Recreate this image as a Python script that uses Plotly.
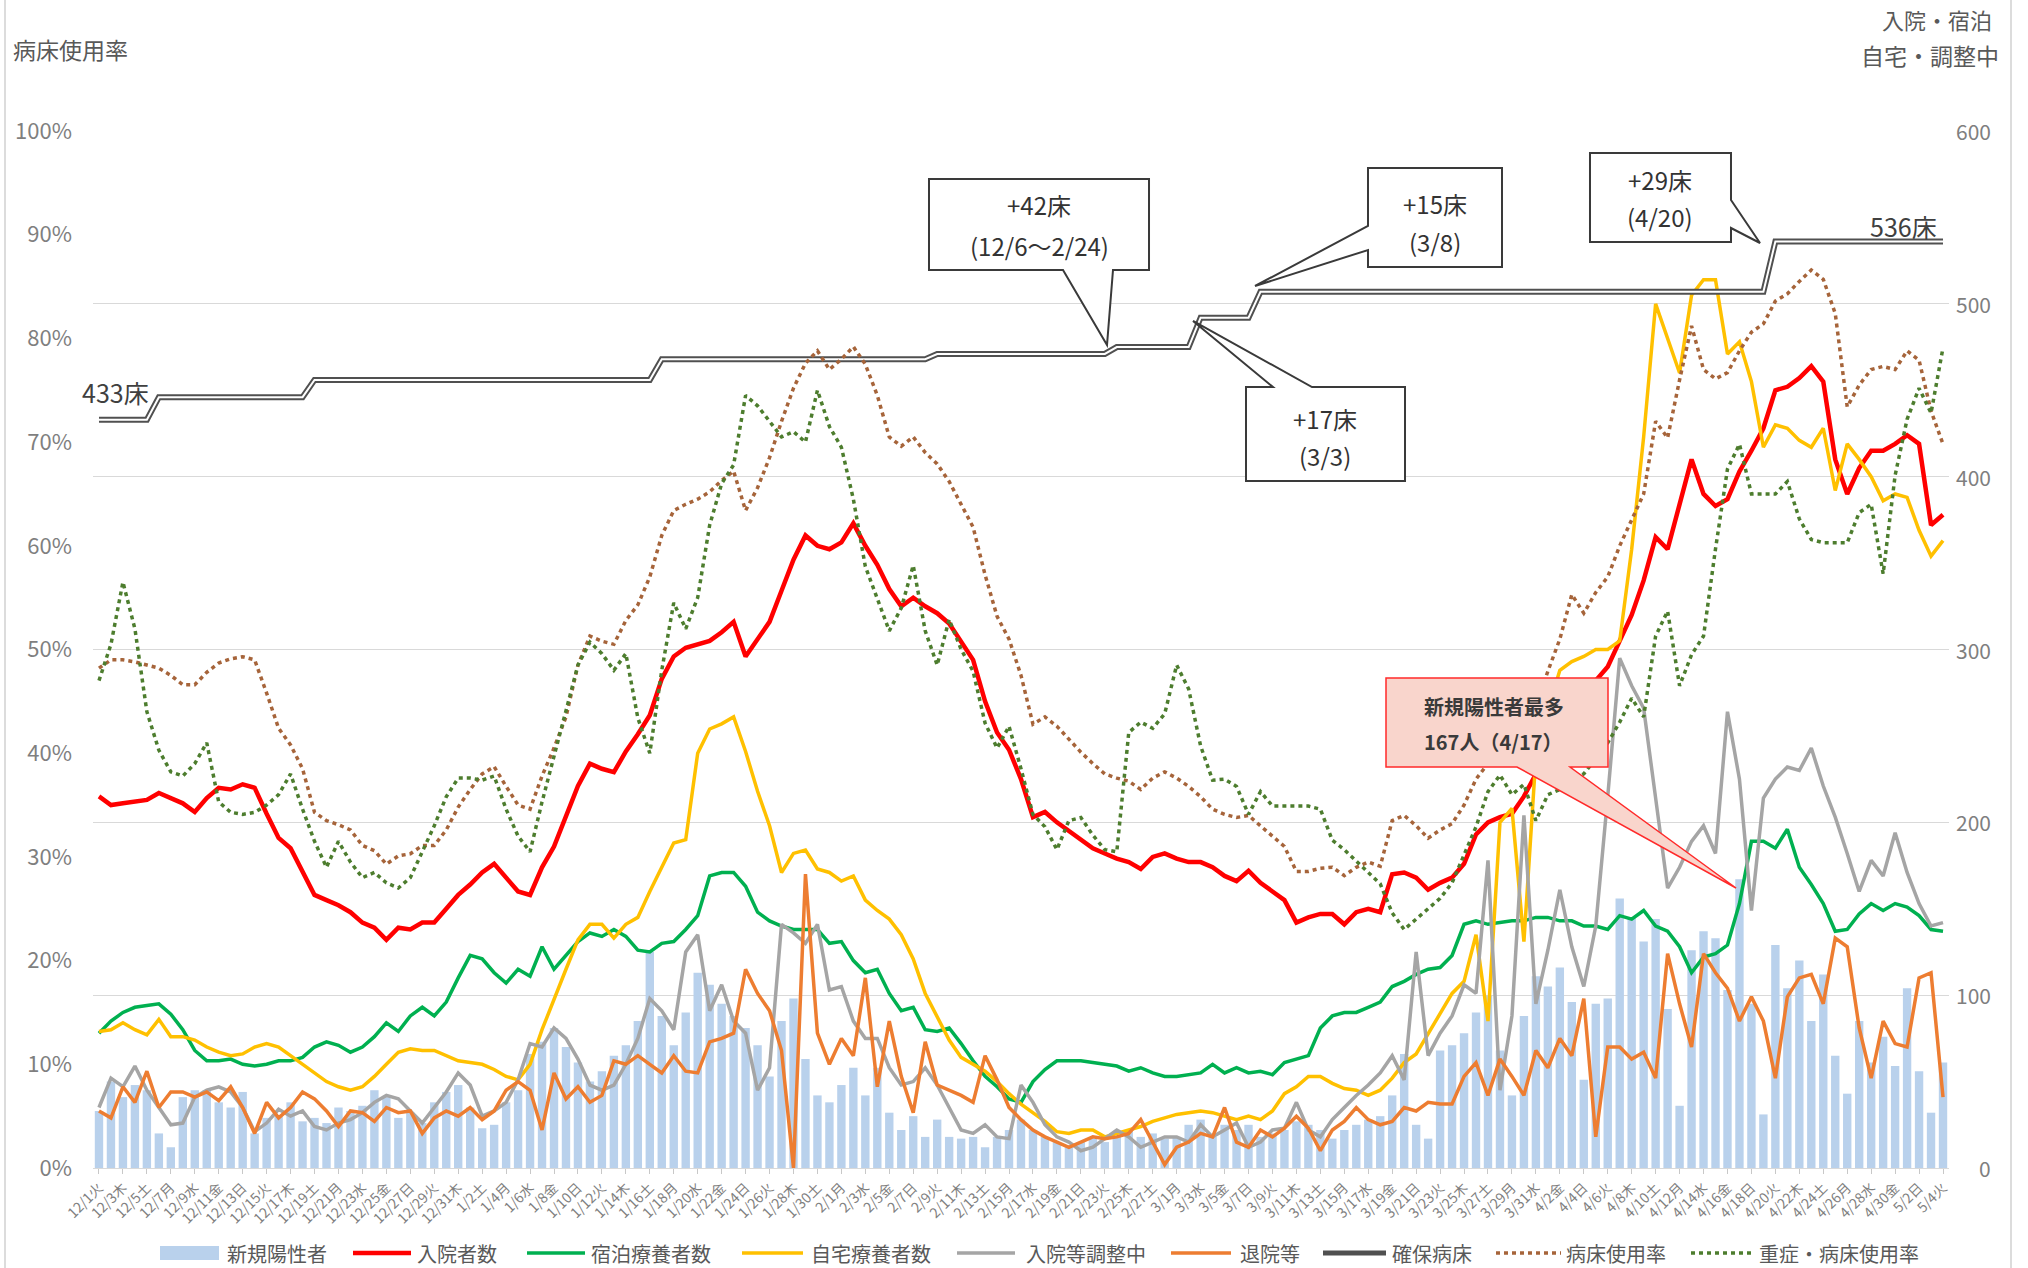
import datetime as dt
import plotly.graph_objects as go

FONT = "Noto Sans CJK JP"
W, H = 2028, 1268
# plot area edges in page pixels
PL, PR, PT, PB = 93, 1949, 131, 1168

# ---- categories -------------------------------------------------------
START = dt.date(2020, 12, 1)
N_DAYS = 155
WEEKDAYS = "月火水木金土日"
dates = [START + dt.timedelta(days=k) for k in range(N_DAYS)]
day_labels = [f"{d.month}/{d.day}{WEEKDAYS[d.weekday()]}" for d in dates]
idx = list(range(N_DAYS))

# ---- series -----------------------------------------------------------
new_cases = [
    33, 50, 41, 48, 45, 20, 12, 41, 45, 45,
    38, 35, 44, 20, 29, 30, 38, 27, 29, 26,
    35, 33, 36, 45, 41, 29, 32, 26, 38, 44,
    48, 35, 23, 25, 38, 45, 66, 73, 81, 70,
    61, 50, 56, 65, 71, 85, 125, 88, 71, 90,
    113, 106, 95, 88, 81, 71, 53, 85, 98, 63,
    42, 38, 48, 58, 42, 58, 32, 22, 30, 18,
    28, 18, 17, 18, 12, 18, 22, 28, 22, 18,
    15, 12, 15, 17, 15, 18, 22, 18, 20, 17,
    18, 25, 28, 18, 25, 22, 25, 18, 20, 22,
    27, 25, 22, 17, 22, 25, 28, 30, 42, 66,
    25, 17, 68, 71, 78, 90, 100, 68, 42, 88,
    111, 105, 116, 96, 51, 95, 98, 156, 145, 131,
    144, 92, 36, 126, 137, 133, 103, 167, 95, 31,
    129, 104, 120, 85, 112, 65, 43, 85, 61, 76,
    59, 104, 56, 32, 61,
]

inpatients = [
    215, 210, 211, 212, 213, 217, 214, 211, 206, 214,
    220, 219, 222, 220, 205, 191, 185, 171, 158, 155,
    152, 148, 142, 139, 132, 139, 138, 142, 142, 150,
    158, 164, 171, 176, 168, 160, 158, 174, 186, 203,
    221, 234, 231, 229, 241, 251, 262, 283, 296, 301,
    303, 305, 310, 316, 296, 306, 316, 334, 352, 366,
    360, 358, 362, 373, 360, 349, 335, 325, 330, 325,
    321, 315, 305, 294, 270, 252, 242, 225, 203, 206,
    200, 195, 190, 185, 182, 179, 177, 173, 180, 182,
    179, 177, 177, 174, 169, 166, 172, 165, 160, 155,
    142, 145, 147, 147, 141, 148, 150, 148, 170, 171,
    168, 161, 165, 168, 176, 193, 200, 203, 205, 215,
    228, 243, 258, 280, 272, 282, 290, 305, 320, 340,
    365, 358, 385, 410, 390, 383, 387, 403, 415, 428,
    450, 452, 457, 464, 455, 410, 390, 405, 415, 415,
    419, 424, 419, 372, 378,
]

hotel = [
    78, 85, 90, 93, 94, 95, 89, 80, 68, 62,
    62, 63, 60, 59, 60, 62, 62, 64, 70, 73,
    71, 67, 70, 76, 84, 79, 88, 93, 88, 96,
    110, 123, 121, 113, 107, 115, 111, 128, 115, 123,
    131, 136, 134, 138, 134, 126, 125, 130, 131, 138,
    146, 169, 171, 171, 163, 148, 143, 140, 138, 138,
    138, 130, 131, 120, 113, 115, 101, 91, 93, 80,
    79, 81, 72, 62, 53, 47, 40, 38, 50, 57,
    62, 62, 62, 61, 60, 59, 56, 58, 55, 53,
    53, 54, 55, 60, 55, 58, 55, 56, 54, 61,
    63, 65, 81, 88, 90, 90, 93, 96, 105, 108,
    112, 115, 116, 123, 141, 143, 141, 142, 143, 143,
    145, 145, 143, 143, 140, 140, 138, 146, 144, 149,
    140, 137, 128, 113, 122, 124, 129, 153, 189, 189,
    185, 196, 174, 164, 153, 137, 138, 147, 153, 149,
    153, 151, 146, 138, 137,
]

home = [
    79, 80, 84, 80, 77, 86, 76, 76, 74, 70,
    67, 65, 66, 70, 72, 70, 65, 60, 55, 50,
    47, 45, 47, 53, 60, 67, 69, 68, 68, 65,
    62, 61, 60, 57, 53, 51, 60, 80, 98, 115,
    132, 141, 141, 133, 141, 145, 160, 174, 188, 190,
    240, 254, 257, 261, 241, 218, 198, 171, 182, 184,
    173, 171, 166, 169, 155, 149, 144, 135, 121, 101,
    88, 74, 64, 60, 56, 50, 43, 37, 32, 27,
    21, 20, 22, 22, 18, 20, 22, 24, 27, 29,
    31, 32, 33, 32, 30, 28, 30, 28, 33, 43,
    47, 53, 53, 49, 46, 45, 42, 45, 52, 61,
    66, 78, 90, 101, 108, 135, 85, 200, 208, 131,
    238, 265, 288, 293, 296, 300, 300, 305, 358, 423,
    500, 480, 460, 505, 514, 514, 471, 478, 455, 417,
    430, 428, 421, 417, 428, 392, 419, 410, 400, 386,
    390, 388, 369, 354, 363,
]

adjusting = [
    35, 52, 47, 59, 45, 35, 25, 26, 41, 45,
    47, 44, 35, 21, 26, 34, 30, 33, 24, 22,
    26, 28, 32, 38, 42, 40, 33, 26, 35, 44,
    55, 48, 30, 33, 38, 51, 72, 70, 81, 75,
    63, 48, 45, 48, 60, 75, 98, 91, 80, 125,
    135, 91, 106, 85, 78, 45, 58, 141, 136, 130,
    141, 103, 105, 85, 75, 75, 58, 48, 50, 58,
    48, 35, 22, 20, 25, 18, 17, 48, 38, 25,
    18, 15, 10, 12, 17, 22, 18, 12, 15, 18,
    18, 15, 25, 18, 22, 26, 12, 15, 22, 23,
    38, 22, 18, 28, 35, 42, 48, 55, 65, 51,
    125, 65, 78, 88, 106, 101, 178, 45, 88, 204,
    95, 126, 161, 128, 105, 140, 215, 295, 279, 266,
    214, 162, 174, 189, 198, 182, 264, 225, 149, 214,
    225, 232, 230, 243, 221, 203, 182, 160, 178, 169,
    194, 171, 153, 140, 142,
]

discharged = [
    33, 29, 47, 38, 56, 35, 44, 44, 41, 44,
    39, 47, 35, 20, 38, 29, 35, 44, 40, 33,
    24, 33, 32, 27, 35, 32, 33, 20, 29, 33,
    30, 35, 28, 33, 45, 50, 45, 22, 55, 40,
    47, 38, 42, 62, 60, 65, 60, 55, 65, 56,
    55, 73, 75, 78, 115, 101, 91, 68, 0, 170,
    78, 60, 75, 65, 110, 47, 85, 53, 32, 73,
    48, 45, 42, 38, 65, 51, 35, 28, 22, 18,
    15, 12, 15, 18, 17, 18, 20, 28, 15, 2,
    12, 15, 20, 18, 35, 15, 12, 22, 18, 23,
    30, 23, 10, 22, 27, 35, 28, 25, 27, 35,
    33, 38, 37, 37, 53, 61, 42, 63, 53, 42,
    68, 58, 75, 65, 98, 18, 70, 70, 63, 67,
    52, 124, 95, 70, 124, 113, 104, 85, 99, 85,
    52, 99, 110, 112, 95, 133, 128, 81, 52, 85,
    72, 70, 110, 113, 41,
]

beds = [
    433, 433, 433, 433, 433, 446, 446, 446, 446, 446,
    446, 446, 446, 446, 446, 446, 446, 446, 456, 456,
    456, 456, 456, 456, 456, 456, 456, 456, 456, 456,
    456, 456, 456, 456, 456, 456, 456, 456, 456, 456,
    456, 456, 456, 456, 456, 456, 456, 468, 468, 468,
    468, 468, 468, 468, 468, 468, 468, 468, 468, 468,
    468, 468, 468, 468, 468, 468, 468, 468, 468, 468,
    471, 471, 471, 471, 471, 471, 471, 471, 471, 471,
    471, 471, 471, 471, 471, 475, 475, 475, 475, 475,
    475, 475, 492, 492, 492, 492, 492, 507, 507, 507,
    507, 507, 507, 507, 507, 507, 507, 507, 507, 507,
    507, 507, 507, 507, 507, 507, 507, 507, 507, 507,
    507, 507, 507, 507, 507, 507, 507, 507, 507, 507,
    507, 507, 507, 507, 507, 507, 507, 507, 507, 507,
    536, 536, 536, 536, 536, 536, 536, 536, 536, 536,
    536, 536, 536, 536, 536,
]

bed_rate = [
    48.2, 49.0, 49.0, 48.8, 48.5, 48.2, 47.5, 46.6, 46.6, 47.8,
    48.7, 49.1, 49.3, 49.0, 45.8, 42.4, 40.8, 38.5, 34.3, 33.5,
    33.1, 32.6, 31.1, 30.6, 29.3, 30.1, 30.3, 31.1, 31.1, 32.6,
    34.8, 36.5, 38.0, 38.7, 36.8, 35.0, 34.6, 37.8, 40.5, 43.5,
    48.5, 51.3, 50.8, 50.5, 52.8, 54.3, 57.0, 61.0, 63.4, 64.0,
    64.5, 65.2, 66.3, 67.2, 63.4, 65.6, 68.5, 72.0, 75.2, 77.6,
    78.8, 77.0, 78.0, 79.2, 77.5, 74.5, 70.5, 69.6, 70.5, 69.0,
    67.9, 66.2, 64.0, 61.8, 57.2, 53.2, 51.0, 47.5, 42.8, 43.5,
    42.6, 41.3, 40.1, 39.0, 38.0, 37.6, 37.3, 36.5, 37.6, 38.2,
    37.6, 36.8, 35.8, 34.6, 34.1, 33.8, 34.0, 33.0, 32.0, 31.0,
    28.6, 28.6, 28.9, 29.0, 28.2, 29.0, 29.5, 29.1, 33.5, 34.0,
    33.0, 31.8, 32.6, 33.2, 35.0, 37.5, 39.0, 40.0, 40.6, 42.3,
    44.5, 47.9, 51.0, 55.3, 53.5, 55.5, 57.0, 60.0, 62.5, 65.0,
    72.0, 70.4, 76.0, 81.2, 77.0, 76.1, 76.7, 78.8, 80.6, 81.4,
    83.6, 84.3, 85.5, 86.6, 85.7, 82.4, 73.4, 75.5, 77.0, 77.3,
    77.0, 78.8, 77.9, 73.0, 69.8,
]

severe_rate = [
    47.0, 50.5, 56.5, 52.0, 44.0, 40.3, 38.2, 37.8, 39.0, 41.0,
    35.3, 34.3, 34.1, 34.3, 35.0, 36.0, 38.0, 34.6, 31.5, 29.0,
    31.5, 29.5, 28.0, 28.5, 27.5, 27.0, 28.0, 30.5, 33.0, 35.8,
    37.6, 37.6, 37.4, 37.8, 34.6, 32.0, 30.5, 35.3, 39.7, 44.0,
    48.5, 50.7, 49.6, 48.0, 49.6, 43.4, 40.0, 48.0, 54.5, 52.0,
    55.0, 62.0, 66.0, 67.8, 74.5, 73.5, 72.0, 70.5, 71.0, 70.0,
    75.0, 71.5, 69.5, 64.5, 58.0, 55.0, 51.8, 54.0, 58.1, 51.8,
    48.5, 52.9, 50.0, 47.9, 42.9, 40.5, 42.6, 38.5, 34.1, 32.9,
    30.7, 33.5, 33.8, 32.1, 30.7, 30.5, 42.0, 43.0, 42.4, 43.8,
    48.5, 46.2, 40.7, 37.4, 37.5, 36.8, 34.1, 36.3, 34.9, 34.9,
    34.9, 34.9, 34.6, 31.6, 30.7, 29.6, 28.5, 27.4, 24.6, 23.0,
    24.0, 25.0, 26.0, 27.5, 30.2, 32.9, 36.3, 37.9, 36.0, 37.0,
    33.5, 36.0, 36.5, 37.5, 38.0, 39.5, 41.0, 43.0, 45.3, 43.5,
    51.3, 53.7, 46.5, 49.5, 51.3, 59.7, 67.4, 69.8, 65.0, 65.0,
    65.0, 66.2, 62.6, 60.6, 60.3, 60.3, 60.3, 63.2, 64.0, 57.3,
    66.8, 72.2, 75.2, 72.8, 79.1,
]

# axis ticks
count_ticks = [0, 100, 200, 300, 400, 500, 600]
rate_ticks = [0, 10, 20, 30, 40, 50, 60, 70, 80, 90, 100]

# ---- colours ----------------------------------------------------------
C_BAR = "#b9d1ec"
C_RED = "#ff0000"
C_GREEN = "#00b050"
C_YELLOW = "#ffc000"
C_GRAY = "#a5a5a5"
C_ORANGE = "#ed7d31"
C_BEDS = "#505050"
C_RATE = "#a6643a"
C_SEVERE = "#4d7d2e"
C_TEXT = "#595959"
C_TICK = "#7f7f7f"
DOT = "4px,4px"


def fx(p):
    return (p - PL) / (PR - PL)


def fy(p):
    return (PB - p) / (PB - PT)


def poly(points):
    return "M " + " L ".join(f"{fx(x):.5f},{fy(y):.5f}" for x, y in points) + " Z"


def label(xp, yp, text, size, color, xanchor="center"):
    return dict(x=fx(xp), y=fy(yp), xref="paper", yref="paper", xanchor=xanchor,
                yanchor="middle", text=text, showarrow=False,
                font=dict(family=FONT, size=size, color=color))


fig = go.Figure()

fig.add_trace(go.Bar(x=idx, y=new_cases, name="新規陽性者", yaxis="y",
                     marker=dict(color=C_BAR, line=dict(width=0))))

count_lines = [
    ("入院者数", inpatients, C_RED, 4.5),
    ("宿泊療養者数", hotel, C_GREEN, 3.5),
    ("自宅療養者数", home, C_YELLOW, 3.5),
    ("入院等調整中", adjusting, C_GRAY, 3.5),
    ("退院等", discharged, C_ORANGE, 3.5),
]
for name, vals, color, width in count_lines:
    fig.add_trace(go.Scatter(x=idx, y=vals, name=name, mode="lines", yaxis="y",
                             line=dict(color=color, width=width)))

# secured beds: double line (dark outer stroke, white core)
fig.add_trace(go.Scatter(x=idx, y=beds, name="確保病床", mode="lines", yaxis="y",
                         line=dict(color=C_BEDS, width=6)))
fig.add_trace(go.Scatter(x=idx, y=beds, mode="lines", yaxis="y", hoverinfo="skip",
                         line=dict(color="white", width=2)))

fig.add_trace(go.Scatter(x=idx, y=bed_rate, name="病床使用率", mode="lines", yaxis="y2",
                         line=dict(color=C_RATE, width=3.5, dash=DOT)))
fig.add_trace(go.Scatter(x=idx, y=severe_rate, name="重症・病床使用率", mode="lines", yaxis="y2",
                         line=dict(color=C_SEVERE, width=3.5, dash=DOT)))

shapes = []
annotations = []

# 50% reference line
shapes.append(dict(type="line", xref="paper", x0=0, x1=1, yref="y2", y0=50, y1=50,
                   line=dict(color="#f08080", width=1.2, dash="dot"), layer="between"))

# outer chart frame (left / right edges)
for xp in (5, 2011):
    shapes.append(dict(type="line", xref="paper", yref="paper", x0=fx(xp), x1=fx(xp),
                       y0=fy(0), y1=fy(H), line=dict(color="#d0d0d0", width=1.5)))

# right-hand count labels
for v in count_ticks:
    annotations.append(dict(x=fx(1993), xref="paper", xanchor="right", y=v, yref="y",
                            yanchor="middle", text=str(v), showarrow=False,
                            font=dict(family=FONT, size=21, color=C_TICK)))

# axis captions
annotations.append(label(11, 49, "病床使用率", 23, C_TEXT, "left"))
annotations.append(label(1994, 19, "入院・宿泊", 22, C_TEXT, "right"))
annotations.append(label(2001, 55, "自宅・調整中", 23, C_TEXT, "right"))

# bed count labels at both ends
annotations.append(label(115, 392, f"{beds[0]}床", 25, "#404040"))
annotations.append(label(1903, 226, f"{beds[-1]}床", 25, "#404040"))

# callouts for bed increases
BOX_LINE = dict(color="#3a3a3a", width=2)
callouts = [
    ([(929, 179), (1149, 179), (1149, 270), (1113, 270), (1107, 345), (1063, 270), (929, 270)],
     1039, [(204, f"+{beds[85] - beds[0]}床"), (246, "(12/6〜2/24)")]),
    ([(1368, 168), (1502, 168), (1502, 267), (1368, 267), (1368, 250), (1255, 286), (1368, 226)],
     1435, [(203, f"+{beds[97] - beds[92]}床"), (241, "(3/8)")]),
    ([(1246, 387), (1273, 387), (1193, 321), (1312, 387), (1405, 387), (1405, 481), (1246, 481)],
     1325, [(418, f"+{beds[92] - beds[91]}床"), (455, "(3/3)")]),
    ([(1590, 153), (1731, 153), (1731, 200), (1760, 243), (1731, 228), (1731, 242), (1590, 242)],
     1660, [(179, f"+{beds[140] - beds[139]}床"), (216, "(4/20)")]),
]
for pts, cx, lines in callouts:
    shapes.append(dict(type="path", xref="paper", yref="paper", path=poly(pts),
                       fillcolor="white", line=BOX_LINE, layer="above"))
    for yp, txt in lines:
        annotations.append(label(cx, yp, txt, 24, "#333333"))

# peak new-case callout
peak = max(new_cases)
peak_i = new_cases.index(peak)
peak_day = dates[peak_i]
shapes.append(dict(type="path", xref="paper", yref="paper",
                   path=poly([(1386, 678), (1608, 678), (1608, 767), (1570, 767), (1736, 888),
                              (1517, 767), (1386, 767)]),
                   fillcolor="#f9d5cc", line=dict(color="#ff2a2a", width=1.5), layer="above"))
annotations.append(label(1422, 706, "<b>新規陽性者最多</b>", 20, "#3a3a3a", "left"))
annotations.append(label(1422, 741, f"<b>{peak}人（{peak_day.month}/{peak_day.day}）</b>",
                         20, "#3a3a3a", "left"))

# legend row
LEG_Y = 1253
legend_items = [
    ("bar", C_BAR, None, 160, 219, "新規陽性者", 225),
    ("line", C_RED, 4.5, 353, 411, "入院者数", 415),
    ("line", C_GREEN, 3.5, 527, 585, "宿泊療養者数", 589),
    ("line", C_YELLOW, 3.5, 742, 803, "自宅療養者数", 809),
    ("line", C_GRAY, 3.5, 957, 1015, "入院等調整中", 1024),
    ("line", C_ORANGE, 3.5, 1171, 1231, "退院等", 1238),
    ("line", C_BEDS, 5, 1323, 1386, "確保病床", 1390),
    ("dot", C_RATE, 3.5, 1496, 1561, "病床使用率", 1564),
    ("dot", C_SEVERE, 3.5, 1691, 1754, "重症・病床使用率", 1757),
]
for kind, color, width, x0, x1, text, tx in legend_items:
    if kind == "bar":
        shapes.append(dict(type="rect", xref="paper", yref="paper", x0=fx(x0), x1=fx(x1),
                           y0=fy(LEG_Y - 7), y1=fy(LEG_Y + 7), fillcolor=color,
                           line=dict(width=0)))
    else:
        shapes.append(dict(type="line", xref="paper", yref="paper", x0=fx(x0), x1=fx(x1),
                           y0=fy(LEG_Y), y1=fy(LEG_Y),
                           line=dict(color=color, width=width,
                                     dash=DOT if kind == "dot" else "solid")))
    annotations.append(label(tx, LEG_Y, text, 20, C_TEXT, "left"))

fig.update_layout(
    width=W, height=H,
    margin=dict(l=PL, r=W - PR, t=PT, b=H - PB, autoexpand=False),
    paper_bgcolor="white", plot_bgcolor="white",
    showlegend=False, bargap=0.3,
    font=dict(family=FONT, color=C_TEXT),
    xaxis=dict(range=[-0.5, N_DAYS - 0.5], tickmode="array", tickvals=idx[::2],
               ticktext=day_labels[::2], tickangle=-45, ticks="outside", ticklen=5,
               tickcolor="#c8c8c8", showline=True, linecolor="#d9d9d9", showgrid=False,
               zeroline=False, tickfont=dict(family=FONT, size=14, color=C_TICK),
               automargin=False),
    yaxis=dict(range=[0, 600], side="right", tickvals=count_ticks, showticklabels=False,
               showgrid=True, gridcolor="#d9d9d9", gridwidth=1, zeroline=False,
               automargin=False),
    yaxis2=dict(range=[0, 100], overlaying="y", side="left", tickvals=rate_ticks,
                ticktext=[f"{v}%" for v in rate_ticks], showgrid=False, zeroline=False,
                ticklabelstandoff=20,
                tickfont=dict(family=FONT, size=22, color=C_TICK), automargin=False),
    shapes=shapes,
    annotations=annotations,
)

fig.write_html("out.html")
